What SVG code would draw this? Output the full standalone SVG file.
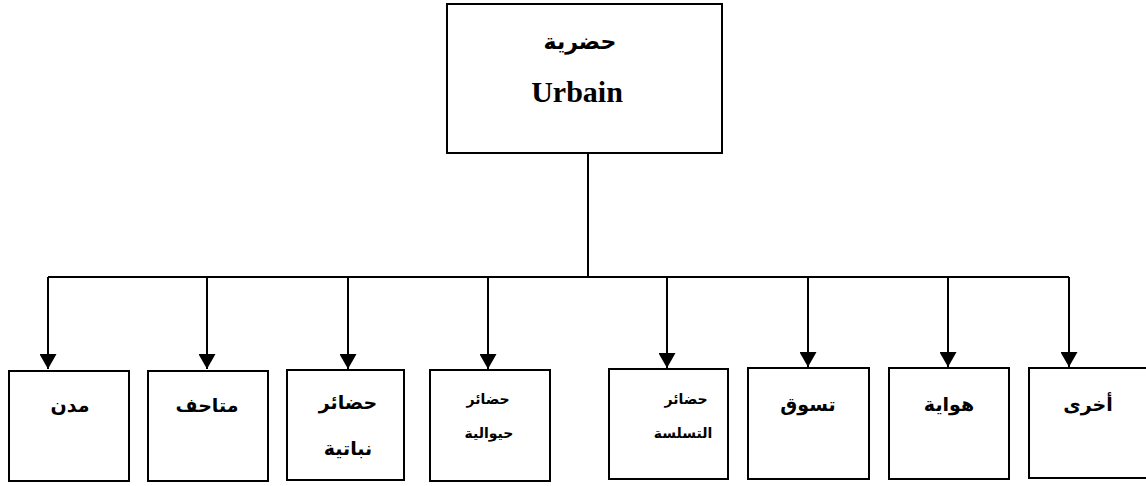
<svg xmlns="http://www.w3.org/2000/svg" width="1146" height="486" viewBox="0 0 1146 486">
  <style>
    .box { fill: #ffffff; stroke: #000000; stroke-width: 2; }
    .line { fill: none; stroke: #000000; stroke-width: 2; }
    .ar { font-family: "DejaVu Sans", "Noto Sans", sans-serif; font-weight: bold; fill: #000000; text-anchor: middle; }
    .ar-title { font-size: 22px; }
    .ar-big { font-size: 19px; }
    .ar-small { font-size: 14px; }
    .lat { font-family: "Liberation Serif", serif; font-weight: bold; fill: #000000; text-anchor: middle; font-size: 30px; }
  </style>
  <defs>
    <marker id="arrowDown" viewBox="0 0 17 15" refX="8.5" refY="15" markerWidth="17" markerHeight="15" markerUnits="userSpaceOnUse" orient="0">
      <path d="M0,0 L17,0 L8.5,15 Z" fill="#000000"/>
    </marker>
  </defs>

  <!-- connectors -->
  <g id="connectors">
    <line class="line" x1="588" y1="153" x2="588" y2="277"/>
    <line class="line" x1="48" y1="277" x2="1069" y2="277"/>
    <line class="line" x1="48" y1="277" x2="48" y2="369" marker-end="url(#arrowDown)"/>
    <line class="line" x1="207" y1="277" x2="207" y2="369" marker-end="url(#arrowDown)"/>
    <line class="line" x1="348" y1="277" x2="348" y2="369" marker-end="url(#arrowDown)"/>
    <line class="line" x1="488" y1="277" x2="488" y2="369" marker-end="url(#arrowDown)"/>
    <line class="line" x1="667" y1="277" x2="667" y2="368" marker-end="url(#arrowDown)"/>
    <line class="line" x1="808" y1="277" x2="808" y2="367" marker-end="url(#arrowDown)"/>
    <line class="line" x1="948" y1="277" x2="948" y2="367" marker-end="url(#arrowDown)"/>
    <line class="line" x1="1069" y1="277" x2="1069" y2="367" marker-end="url(#arrowDown)"/>
  </g>

  <!-- root node -->
  <g id="node-urbain">
    <rect class="box" x="447" y="4" width="275" height="149"/>
    <text class="ar ar-title" x="580" y="49">حضرية</text>
    <text class="lat" x="577" y="102">Urbain</text>
  </g>

  <!-- child nodes -->
  <g id="node-villes">
    <rect class="box" x="9" y="371" width="120" height="110"/>
    <text class="ar ar-big" x="70" y="412">مدن</text>
  </g>
  <g id="node-musees">
    <rect class="box" x="148" y="371" width="120" height="110"/>
    <text class="ar ar-big" x="207" y="412">متاحف</text>
  </g>
  <g id="node-botanique">
    <rect class="box" x="287" y="370" width="117" height="110"/>
    <text class="ar ar-big" x="348" y="409">حضائر</text>
    <text class="ar ar-big" x="348" y="455">نباتية</text>
  </g>
  <g id="node-zoo">
    <rect class="box" x="430" y="370" width="120" height="111"/>
    <text class="ar ar-small" x="488" y="404">حضائر</text>
    <text class="ar ar-small" x="489" y="438">حيوالية</text>
  </g>
  <g id="node-loisirs">
    <rect class="box" x="609" y="369" width="119" height="110"/>
    <text class="ar ar-small" x="686" y="404">حضائر</text>
    <text class="ar ar-small" x="683" y="438">التسلسة</text>
  </g>
  <g id="node-shopping">
    <rect class="box" x="748" y="368" width="121" height="111"/>
    <text class="ar ar-big" x="808" y="411">تسوق</text>
  </g>
  <g id="node-hobby">
    <rect class="box" x="889" y="368" width="120" height="111"/>
    <text class="ar ar-big" x="949" y="411">هواية</text>
  </g>
  <g id="node-other">
    <rect class="box" x="1029" y="368" width="125" height="110"/>
    <text class="ar ar-big" x="1088" y="411">أخرى</text>
  </g>
</svg>
